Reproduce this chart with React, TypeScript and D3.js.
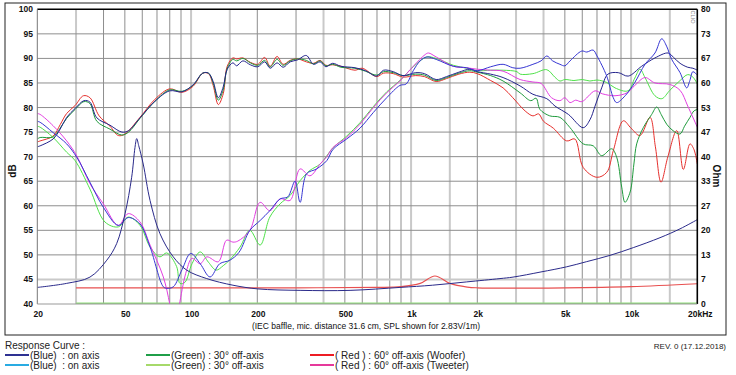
import React from "react";
import * as d3 from "d3";

const W = 736;
const H = 375;
const PL = 37.3, PR = 697.3, PT = 9.3, PB = 304;

// ---------- axis data ----------
const DB_TICKS = [40, 45, 50, 55, 60, 65, 70, 75, 80, 85, 90, 95, 100];
const OHM_LABELS = ["0", "7", "13", "20", "27", "33", "40", "47", "53", "60", "67", "73", "80"];
const FREQ_TICKS = [20, 50, 100, 200, 500, 1000, 2000, 5000, 10000, 20000];
const FREQ_TICK_LABELS = ["20", "50", "100", "200", "500", "1k", "2k", "5k", "10k", "20kHz"];
const FREQ_GRID = [30, 40, 50, 60, 70, 80, 90, 100, 150, 200, 300, 400, 500, 600, 700, 800, 900,
  1000, 1500, 2000, 3000, 4000, 5000, 6000, 7000, 8000, 9000, 10000, 15000];
const FREQ_GRID_LIGHT = [30, 100, 150, 400, 1000, 1500, 3000, 4000, 10000, 15000];

// ---------- SPL curves [Hz, dB] ----------
const wooferOn: [number, number][] = [
  [20, 72.0], [20.6, 72.2], [23.6, 73.6], [25.4, 75.6], [27.2, 78.0], [29.7, 79.8], [32.6, 81.4], [34.7, 81.1],
  [37.3, 77.9], [42.8, 76.4], [48.5, 75.0], [52, 75.3], [58.6, 77.9], [68.6, 81.3], [80, 83.4], [90.9, 83.2],
  [102, 84.6], [113, 87.0], [120, 87.0], [126, 85.3], [133, 82.0], [140, 84.2], [146, 87.8], [155, 89.1],
  [161, 88.5], [172, 89.5], [186, 88.7], [201, 88.3], [216, 89.3], [229, 88.0], [246, 89.1], [262, 88.2],
  [282, 89.3], [305, 89.7], [334, 90.6], [360, 88.8], [386, 89.3], [410, 88.3], [440, 89.0], [480, 88.4],
  [556, 88.1], [620, 87.5], [698, 86.4], [750, 87.6], [830, 87.3], [919, 86.5], [1050, 87.1], [1150, 86.9],
  [1300, 85.7], [1450, 86.3], [1650, 87.2], [1850, 87.8], [2000, 87.3], [2300, 86.8], [2620, 86.1],
  [3130, 84.4], [3580, 82.7], [4140, 81.8], [4510, 80.3], [5190, 78.6], [6060, 75.9], [6500, 77.5],
  [6860, 80.3], [7350, 84.0], [7850, 86.8], [8750, 87.1], [9700, 86.4], [11170, 88.4], [12840, 90.1],
  [14750, 91.1], [15600, 90.2], [16700, 89.0], [18100, 88.2], [19100, 88.0], [20000, 87.6],
];
const wooferOff30: [number, number][] = [
  [20, 73.6], [20.6, 73.9], [23.6, 74.0], [25.4, 75.8], [27.2, 77.8], [29.7, 79.6], [32.6, 81.2], [34.7, 80.8],
  [37.3, 77.2], [42.8, 75.6], [48.5, 74.4], [52, 75.0], [58.6, 77.8], [68.6, 81.3], [80, 83.6], [90.9, 83.3],
  [102, 84.5], [113, 87.0], [120, 87.0], [126, 85.0], [133, 81.5], [140, 83.6], [146, 88.0], [155, 89.8],
  [161, 89.5], [172, 90.0], [186, 89.1], [201, 88.6], [216, 89.6], [229, 88.3], [246, 89.8], [262, 88.6],
  [282, 89.5], [305, 89.9], [334, 89.6], [360, 88.9], [386, 89.5], [410, 88.5], [440, 88.8], [480, 88.2],
  [556, 88.0], [620, 87.4], [698, 86.6], [750, 87.3], [830, 87.1], [919, 86.5], [1050, 86.8], [1150, 86.6],
  [1300, 85.5], [1450, 86.1], [1650, 87.0], [1850, 87.5], [2000, 87.2], [2300, 86.5], [2620, 85.4],
  [3130, 83.0], [3500, 81.4], [3700, 81.9], [3855, 79.6], [4270, 78.3], [4750, 78.0], [5280, 75.9],
  [6060, 72.6], [6730, 72.2], [7350, 70.2], [8165, 71.6], [8600, 69.9], [9066, 63.8], [9385, 60.7],
  [9900, 62.8], [10300, 68.5], [10605, 72.6], [11363, 75.9], [12409, 78.6], [13077, 80.1], [13700, 78.6],
  [14518, 76.6], [15500, 75.3], [16690, 74.6], [17500, 76.2], [18529, 78.0], [19300, 79.3], [20000, 79.6],
];
const wooferOff60: [number, number][] = [
  [20, 73.0], [20.6, 73.2], [23.6, 74.2], [25.4, 76.5], [27.2, 78.8], [29.7, 80.4], [32.4, 82.4], [34.7, 82.0],
  [38.2, 78.3], [42.8, 76.2], [46.7, 74.3], [50, 74.6], [58.6, 78.0], [68.6, 81.7], [80, 83.8], [90.9, 83.1],
  [102, 84.3], [113, 87.0], [120, 86.9], [126, 84.5], [133, 80.6], [140, 82.8], [146, 88.4], [155, 90.1],
  [161, 89.9], [172, 90.1], [186, 89.2], [201, 88.8], [216, 90.2], [229, 88.4], [246, 90.4], [262, 88.8],
  [282, 89.6], [305, 89.9], [334, 89.3], [360, 89.0], [386, 89.6], [410, 88.6], [440, 88.7], [480, 88.4],
  [556, 87.6], [600, 88.0], [698, 86.3], [750, 87.0], [830, 86.9], [919, 86.2], [1050, 86.5], [1150, 86.3],
  [1300, 85.3], [1450, 85.9], [1650, 86.8], [1850, 87.2], [2000, 86.9], [2300, 85.5], [2620, 84.0],
  [2900, 82.0], [3300, 79.3], [3580, 78.3], [3800, 78.7], [4000, 77.2], [4430, 75.8], [5100, 73.2],
  [5550, 73.6], [6060, 67.8], [6980, 65.8], [7750, 66.8], [8300, 71.2], [9220, 77.3], [10000, 75.8],
  [10978, 74.3], [12191, 78.0], [12900, 72.0], [13680, 64.8], [14700, 70.0], [16123, 75.3], [17276, 67.4],
  [18529, 72.6], [19300, 71.5], [20000, 68.5],
];
const tweeterOn: [number, number][] = [
  [20, 77.2], [20.6, 77.0], [23.6, 74.9], [27.2, 72.6], [30.2, 69.9], [34.7, 64.8], [39.9, 59.7], [46.7, 56.0],
  [51.8, 57.6], [58.6, 56.3], [65.1, 51.6], [74.8, 43.5], [77.5, 43.2], [83, 43.5], [91, 47.0], [99.6, 50.3],
  [110, 48.2], [122, 45.5], [135, 48.2], [150, 48.9], [165, 50.5], [185, 55.0], [206, 57.0], [228, 59.0],
  [254, 61.4], [275, 61.8], [297, 65.0], [313, 60.7], [335, 66.5], [372, 67.5], [414, 69.2], [442, 71.5],
  [510, 73.6], [586, 75.8], [674, 79.0], [775, 82.0], [890, 84.5], [950, 84.8], [1023, 87.5], [1100, 89.5],
  [1180, 90.3], [1300, 89.8], [1556, 88.4], [1790, 88.1], [2000, 87.5], [2300, 88.3], [2620, 88.8],
  [2900, 88.1], [3130, 88.0], [3580, 88.8], [3900, 89.5], [4140, 90.5], [4400, 89.5], [4750, 88.8],
  [5000, 88.5], [5280, 89.5], [5970, 91.5], [6290, 91.3], [6720, 91.7], [7000, 90.5], [7750, 86.4],
  [8300, 82.0], [8600, 81.0], [9400, 82.4], [10400, 85.1], [11570, 88.8], [12840, 91.1], [13780, 94.0],
  [14500, 92.5], [15300, 89.8], [16700, 87.1], [17900, 84.0], [18500, 85.5], [19100, 87.3], [20000, 86.6],
];
const tweeterOff30: [number, number][] = [
  [20, 76.2], [20.6, 76.0], [23.6, 73.9], [27.2, 70.9], [29.7, 69.2], [34.7, 63.4], [40.6, 56.7], [46.7, 55.7],
  [51.8, 57.7], [58.6, 56.0], [65.1, 51.6], [72.2, 49.6], [77.5, 50.4], [86, 47.6], [89, 44.2], [93.7, 44.4],
  [101, 48.2], [110, 50.6], [120, 48.5], [130, 46.9], [140, 47.8], [150, 49.0], [167, 51.6], [185, 55.0],
  [206, 52.0], [228, 57.7], [254, 60.4], [282, 62.1], [313, 65.1], [347, 67.2], [386, 68.5], [442, 71.8],
  [510, 74.2], [586, 76.9], [674, 80.2], [775, 83.2], [890, 85.5], [1023, 88.3], [1180, 90.3], [1300, 90.0],
  [1556, 88.6], [1790, 88.0], [2000, 87.5], [2300, 87.6], [2620, 87.6], [3030, 87.3], [3130, 86.8],
  [3580, 86.9], [4140, 87.7], [4500, 86.2], [4750, 85.4], [5000, 85.7], [5500, 85.5], [6000, 85.7],
  [6500, 85.4], [7000, 85.6], [7750, 85.1], [8450, 84.0], [9680, 83.4], [10400, 86.0], [10980, 87.8],
  [11600, 86.0], [12840, 82.4], [13800, 81.8], [15000, 83.5], [16700, 85.5], [18100, 86.7], [19100, 86.2],
  [20000, 84.8],
];
const tweeterOff60: [number, number][] = [
  [20, 78.8], [20.6, 78.6], [23.6, 76.3], [27.2, 73.2], [30.2, 70.2], [34.7, 64.5], [39.9, 60.4], [46.7, 56.0],
  [51.8, 58.4], [58.6, 56.7], [65.1, 52.0], [74.8, 45.5], [80, 40.0], [83, 36.0], [86, 36.0], [89, 40.5],
  [95.5, 46.9], [101, 49.3], [110, 48.2], [118, 49.6], [133, 48.6], [145, 53.0], [155, 52.6], [163, 52.8],
  [185, 55.0], [206, 60.7], [228, 59.0], [254, 61.4], [282, 61.1], [313, 67.5], [347, 66.1], [386, 68.5],
  [414, 70.0], [442, 71.9], [510, 73.9], [586, 76.6], [674, 80.0], [775, 83.0], [890, 85.4], [1023, 88.4],
  [1160, 90.8], [1200, 91.1], [1300, 90.3], [1556, 88.4], [1790, 88.1], [2000, 87.8], [2300, 87.6],
  [2620, 87.4], [3130, 85.7], [3580, 85.2], [3900, 84.9], [4350, 82.0], [4750, 81.4], [5000, 82.0],
  [5280, 81.0], [5600, 81.5], [5970, 81.2], [6860, 83.4], [7400, 82.8], [8450, 82.4], [9580, 83.0],
  [10400, 84.5], [11570, 86.1], [12840, 85.0], [15000, 84.7], [16700, 83.5], [18100, 80.3], [20000, 76.0],
];

// ---------- impedance curves [Hz, Ohm] ----------
const impedanceWoofer: [number, number][] = [
  [20, 4.5], [27.2, 5.6], [34.7, 7.3], [41.4, 11.9], [45.9, 16.4], [50.1, 24.5], [53.7, 34.4], [55.6, 42.5],
  [56.6, 44.9], [57.8, 43.0], [60.6, 38.0], [65.1, 28.1], [72.2, 19.1], [83, 12.8], [95.5, 9.2], [117.8, 6.9],
  [155, 5.1], [201, 4.1], [313, 3.7], [528, 3.7], [890, 4.5], [1250, 5.1], [1790, 6.0], [2536, 6.9],
  [2907, 7.3], [3895, 8.7], [5100, 10.1], [6286, 11.5], [8021, 13.2], [10235, 15.3], [13536, 18.0],
  [16690, 20.4], [20000, 22.9],
];
const impedanceRed: [number, number][] = [
  [30, 4.4], [100, 4.4], [300, 4.4], [700, 4.5], [900, 4.7], [1100, 5.6], [1284, 7.6], [1500, 5.6],
  [1800, 4.6], [2000, 4.4], [5000, 4.4], [10000, 4.7], [20000, 5.5],
];
const impedanceGreen: [number, number][] = [[30, 0.2], [20000, 0.2]];

// ---------- legend ----------
const LEGEND_ROW1 = ["(Blue)  : on axis", "(Green) : 30° off-axis", "( Red ) : 60° off-axis (Woofer)"];
const LEGEND_ROW2 = ["(Blue)  : on axis", "(Green) : 30° off-axis", "( Red ) : 60° off-axis (Tweeter)"];

const FONT = "Arial, 'Liberation Sans', sans-serif";

export default function App() {
  const x = d3.scaleLog().domain([20, 20000]).range([PL, PR]);
  const y = d3.scaleLinear().domain([40, 100]).range([PB, PT]);
  const yO = d3.scaleLinear().domain([0, 80]).range([PB, PT]);

  const lineDb = d3.line<[number, number]>()
    .x((d) => x(d[0]))
    .y((d) => y(d[1]))
    .curve(d3.curveCatmullRom.alpha(0.5));
  const lineOhm = d3.line<[number, number]>()
    .x((d) => x(d[0]))
    .y((d) => yO(d[1]))
    .curve(d3.curveCatmullRom.alpha(0.5));

  const curves: { d: string; c: string; w: number }[] = [
    { d: lineOhm(impedanceGreen)!, c: "#8fe07a", w: 1.6 },
    { d: lineOhm(impedanceRed)!, c: "#e85050", w: 1.2 },
    { d: lineDb(wooferOff60)!, c: "#e5302d", w: 1.0 },
    { d: lineDb(wooferOff30)!, c: "#1f9a3c", w: 1.0 },
    { d: lineDb(tweeterOff30)!, c: "#4fe04a", w: 1.0 },
    { d: lineDb(tweeterOff60)!, c: "#e23ee0", w: 1.0 },
    { d: lineDb(wooferOn)!, c: "#24248c", w: 1.0 },
    { d: lineDb(tweeterOn)!, c: "#3636d2", w: 1.0 },
    { d: lineOhm(impedanceWoofer)!, c: "#2a2a8a", w: 1.0 },
  ];

  const legendColors1 = ["#2e3192", "#1f9e48", "#ed1c24"];
  const legendColors2 = ["#29abe2", "#a6d96a", "#e6399b"];
  const legendX = [5, 146, 310];

  return (
    <svg width={W} height={H} style={{ position: "fixed", left: 0, top: 0, background: "#fff" }}
      fontFamily={FONT}>
      <rect x={0} y={0} width={W} height={H} fill="#fff" />
      {/* outer frame */}
      <rect x={5} y={3} width={721} height={332} fill="none" stroke="#222" strokeWidth={1} />
      <defs>
        <clipPath id="plotclip">
          <rect x={PL} y={PT} width={PR - PL} height={PB - PT} />
        </clipPath>
      </defs>
      {/* grid */}
      {FREQ_GRID.map((f) => {
        const light = FREQ_GRID_LIGHT.includes(f);
        return (
          <line key={"v" + f} x1={x(f)} x2={x(f)} y1={PT} y2={PB}
            stroke={light ? "#c9c9c9" : "#8e8e8e"} strokeWidth={light ? 2 : 1} />
        );
      })}
      {DB_TICKS.slice(1, -1).map((v) => {
        const light = v === 45;
        return (
          <line key={"h" + v} x1={PL} x2={PR} y1={y(v)} y2={y(v)}
            stroke={light ? "#c9c9c9" : "#8e8e8e"} strokeWidth={light ? 2 : 1} />
        );
      })}
      {/* curves */}
      <g clipPath="url(#plotclip)" fill="none">
        {curves.map((c, i) => (
          <path key={i} d={c.d} stroke={c.c} strokeWidth={c.w} strokeLinejoin="round" />
        ))}
      </g>
      {/* plot frame */}
      <line x1={PL} x2={PR} y1={PT} y2={PT} stroke="#000" strokeWidth={1.6} />
      <line x1={PR} x2={PR} y1={PT} y2={PB} stroke="#000" strokeWidth={1.6} />
      <line x1={PL} x2={PL} y1={PT} y2={PB} stroke="#777" strokeWidth={1} />
      <line x1={PL} x2={PR} y1={PB} y2={PB} stroke="#999" strokeWidth={1} />
      {/* left ticks */}
      {DB_TICKS.map((v) => (
        <text key={"l" + v} x={33} y={y(v)} dy="0.35em" textAnchor="end" fontSize={8.5}
          fontWeight="bold" fill="#111">{v}</text>
      ))}
      {/* right ticks */}
      {OHM_LABELS.map((s, i) => (
        <text key={"r" + i} x={701} y={yO((80 / 12) * i)} dy="0.35em" textAnchor="start" fontSize={8.5}
          fontWeight="bold" fill="#111">{s}</text>
      ))}
      {/* bottom ticks */}
      {FREQ_TICKS.map((f, i) => (
        <text key={"b" + f} x={i === FREQ_TICKS.length - 1 ? x(f) + 3 : x(f) + 1} y={317} textAnchor="middle"
          fontSize={8.5} fontWeight="bold" fill="#111">{FREQ_TICK_LABELS[i]}</text>
      ))}
      <text transform="translate(16,171) rotate(-90)" textAnchor="middle" fontSize={10} fontWeight="bold"
        fill="#111">dB</text>
      <text transform="translate(713,176) rotate(90)" textAnchor="middle" fontSize={10} fontWeight="bold"
        fill="#111">Ohm</text>
      <text transform="translate(691,17) rotate(90)" textAnchor="middle" fontSize={5.5} fill="#888">CLIO</text>
      <text x={366} y={329} textAnchor="middle" fontSize={8.5} fill="#111">
        (IEC baffle, mic. distance 31.6 cm, SPL shown for 2.83V/1m)
      </text>
      {/* legend */}
      <text x={5} y={349} fontSize={10} fill="#222">Response Curve :</text>
      {LEGEND_ROW1.map((s, i) => (
        <g key={"lg1" + i}>
          <line x1={legendX[i]} x2={legendX[i] + 24} y1={355} y2={355} stroke={legendColors1[i]} strokeWidth={2} />
          <text x={legendX[i] + 25} y={358.5} fontSize={10} fill="#222" xmlSpace="preserve">{s}</text>
        </g>
      ))}
      {LEGEND_ROW2.map((s, i) => (
        <g key={"lg2" + i}>
          <line x1={legendX[i]} x2={legendX[i] + 24} y1={365} y2={365} stroke={legendColors2[i]} strokeWidth={2} />
          <text x={legendX[i] + 25} y={368.5} fontSize={10} fill="#222" xmlSpace="preserve">{s}</text>
        </g>
      ))}
      <text x={726} y={349} textAnchor="end" fontSize={8} fill="#222">REV. 0 (17.12.2018)</text>
    </svg>
  );
}
